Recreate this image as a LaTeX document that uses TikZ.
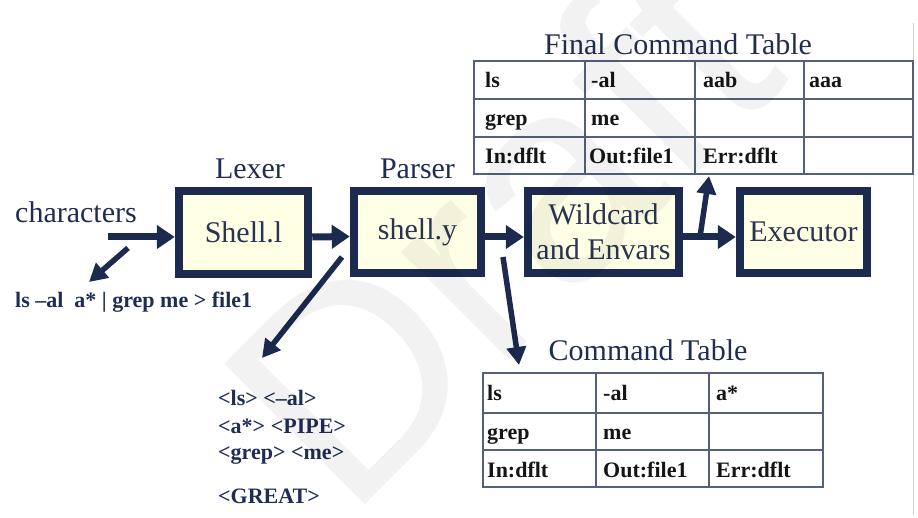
\documentclass[tikz,border=0pt]{standalone}
\usepackage{fontspec}
\setmainfont{Liberation Serif}
\newfontfamily\wmfont{Liberation Sans}
\usetikzlibrary{arrows.meta}
\definecolor{navy}{HTML}{1B2A4E}
\definecolor{boxfill}{HTML}{FFFFE6}
\definecolor{boxtext}{HTML}{2A3350}
\definecolor{titletext}{HTML}{1F2D52}
\definecolor{gridline}{HTML}{55607E}
\definecolor{celltext}{HTML}{151515}
\begin{document}
\begin{tikzpicture}[x=1pt,y=-1pt,
  stage/.style={draw=navy, line width=8.5pt, fill=boxfill, inner sep=0pt, text=boxtext,
    font=\fontsize{30}{35}\selectfont, align=center},
  flow/.style={draw=navy, line width=7pt, -{Triangle[length=18pt,width=23pt]}},
  diag/.style={draw=navy, line width=5.5pt, -{Triangle[length=18pt,width=19pt]}},
  lbl/.style={text=titletext, font=\fontsize{30}{35}\selectfont, inner sep=0pt},
  cell/.style={anchor=base west, inner sep=0pt, text=celltext, font=\bfseries\fontsize{22}{24}\selectfont},
  tok/.style={anchor=base west, inner sep=0pt, text=titletext, font=\bfseries\fontsize{22}{24}\selectfont},
  tbl/.style={draw=gridline, line width=1.3pt, inner sep=0pt},
  grid/.style={draw=gridline, line width=1.3pt},
  wm/.style={inner sep=0pt, text=black, text opacity=0.05, font=\wmfont\fontsize{289}{289}\selectfont}
]
\useasboundingbox (0,0) rectangle (918,518);
\draw[black!18, line width=1pt] (913,23) -- (913,515);

% stages
\node[stage, minimum width=129pt, minimum height=83pt] (lex) at (243.5,232.5) {Shell.l};
\node[stage, minimum width=127pt, minimum height=82pt] (par) at (417.5,232) {shell.y};
\node[stage, minimum width=151pt, minimum height=82pt] (wild) at (603.5,232) {Wildcard\\and Envars};
\node[stage, minimum width=127pt, minimum height=82pt] (exec) at (803.5,232) {Executor};

% labels
\node[lbl, anchor=base] (lexlbl) at (250,179) {Lexer};
\node[lbl, anchor=base] (parlbl) at (417.5,179) {Parser};
\node[lbl, anchor=base west] (chars) at (15,223) {characters};
\node[tok] (input) at (15,308) {ls –al\ \ a* | grep me > file1};

% tokens
\node[tok] (tok1) at (218,406) {<ls> <–al>};
\node[tok] (tok2) at (218,433) {<a*> <PIPE>};
\node[tok] (tok3) at (218,459) {<grep> <me>};
\node[tok] (tok4) at (218,503) {<GREAT>};

% final command table
\node[lbl, anchor=base] (ftitle) at (678,55) {Final Command Table};
\node[tbl, minimum width=439pt, minimum height=113pt] (ftab) at (693.5,117.5) {};
\draw[grid] (585,61) -- (585,174);
\draw[grid] (695,61) -- (695,174);
\draw[grid] (804,61) -- (804,174);
\draw[grid] (474,99) -- (913,99);
\draw[grid] (474,137) -- (913,137);
\node[cell] (f11) at (485,88) {ls};
\node[cell] (f12) at (591,88) {-al};
\node[cell] (f13) at (703,88) {aab};
\node[cell] (f14) at (809,88) {aaa};
\node[cell] (f21) at (485,126) {grep};
\node[cell] (f22) at (591,126) {me};
\node[cell] (f31) at (485,164) {In:dflt};
\node[cell] (f32) at (589,164) {Out:file1};
\node[cell] (f33) at (703,164) {Err:dflt};

% command table
\node[lbl, anchor=base] (ctitle) at (648,360) {Command Table};
\node[tbl, minimum width=340pt, minimum height=114pt] (ctab) at (653,430) {};
\draw[grid] (596,373) -- (596,487);
\draw[grid] (709,373) -- (709,487);
\draw[grid] (483,413) -- (823,413);
\draw[grid] (483,450) -- (823,450);
\node[cell] (c11) at (487,400) {ls};
\node[cell] (c12) at (603,400) {-al};
\node[cell] (c13) at (716,400) {a*};
\node[cell] (c21) at (487,439) {grep};
\node[cell] (c22) at (603,439) {me};
\node[cell] (c31) at (487,477) {In:dflt};
\node[cell] (c32) at (603,477) {Out:file1};
\node[cell] (c33) at (716,477) {Err:dflt};

% connectors
\coordinate (cstart) at (108,237);
\draw[flow] (cstart) -- ([yshift=-4.5pt]lex.west);
\draw[flow] ([yshift=-4.5pt]lex.east) -- ([yshift=-4.5pt]par.west);
\draw[flow] ([yshift=-5pt]par.east) -- ([yshift=-5pt]wild.west);
\draw[flow] ([yshift=-5pt]wild.east) -- ([yshift=-5pt]exec.west);
\coordinate (up0) at (700,237);
\coordinate (up1) at (709,176);
\draw[diag] (up0) -- (up1);
\coordinate (d0) at (128,248);
\coordinate (d1) at (89,282);
\draw[diag] (d0) -- (d1);
\coordinate (p0) at (342,257);
\coordinate (p1) at (262,358);
\draw[diag] (p0) -- (p1);
\coordinate (q0) at (503,257);
\coordinate (q1) at (519,365);
\draw[diag] (q0) -- (q1);

% watermark
\node[wm, rotate=45, anchor=base west] (draft) at (348,522) {Draft};
\end{tikzpicture}
\end{document}
